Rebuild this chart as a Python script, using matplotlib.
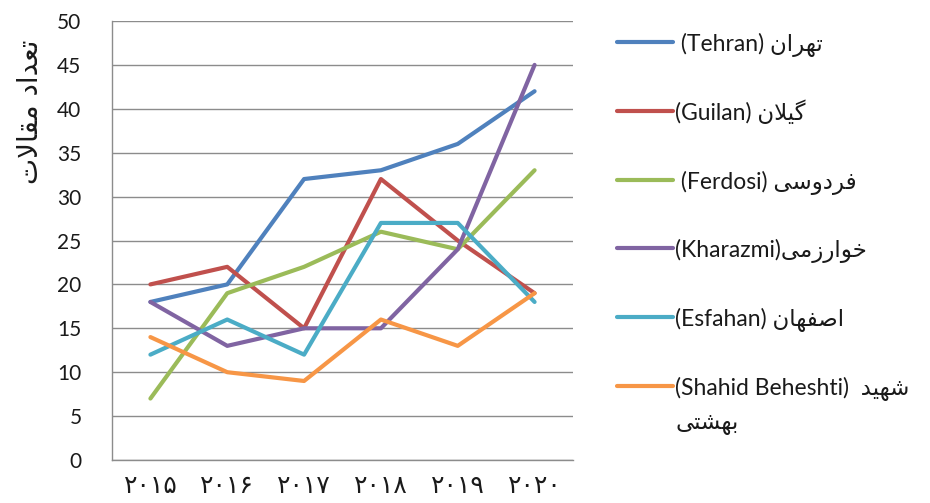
import matplotlib
import matplotlib.pyplot as plt
from matplotlib.lines import Line2D

matplotlib.use('Agg')

# Data
years = ['۲۰۱۵', '۲۰۱۶', '۲۰۱۷', '۲۰۱۸', '۲۰۱۹', '۲۰۲۰']
tehran = [18, 20, 32, 33, 36, 42]
guilan = [20, 22, 15, 32, 25, 19]
ferdosi = [7, 19, 22, 26, 24, 33]
kharazmi = [18, 13, 15, 15, 24, 45]
esfahan = [12, 16, 12, 27, 27, 18]
beheshti = [14, 10, 9, 16, 13, 19]

latin_names = [' (Tehran) ', '(Guilan) ', ' (Ferdosi) ', '(Kharazmi)', '(Esfahan) ', '(Shahid Beheshti)  ']
persian_names = ['تهران', 'گیلان', 'فردوسی', 'خوارزمی', 'اصفهان', 'شهید']
y_title = 'تعداد مقالات'

colors = ['#4F81BD', '#C0504D', '#9BBB59', '#8064A2', '#4BACC6', '#F79646']

# matplotlib has no Arabic shaping, so map letters to presentation forms
# (isolated, final, initial, medial) and lay them out right to left
FORMS = {
    'ا': ('\uFE8D', '\uFE8E', None, None),
    'ب': ('\uFE8F', '\uFE90', '\uFE91', '\uFE92'),
    'ت': ('\uFE95', '\uFE96', '\uFE97', '\uFE98'),
    'خ': ('\uFEA5', '\uFEA6', '\uFEA7', '\uFEA8'),
    'د': ('\uFEA9', '\uFEAA', None, None),
    'ر': ('\uFEAD', '\uFEAE', None, None),
    'ز': ('\uFEAF', '\uFEB0', None, None),
    'س': ('\uFEB1', '\uFEB2', '\uFEB3', '\uFEB4'),
    'ش': ('\uFEB5', '\uFEB6', '\uFEB7', '\uFEB8'),
    'ص': ('\uFEB9', '\uFEBA', '\uFEBB', '\uFEBC'),
    'ع': ('\uFEC9', '\uFECA', '\uFECB', '\uFECC'),
    'ف': ('\uFED1', '\uFED2', '\uFED3', '\uFED4'),
    'ق': ('\uFED5', '\uFED6', '\uFED7', '\uFED8'),
    'ل': ('\uFEDD', '\uFEDE', '\uFEDF', '\uFEE0'),
    'م': ('\uFEE1', '\uFEE2', '\uFEE3', '\uFEE4'),
    'ن': ('\uFEE5', '\uFEE6', '\uFEE7', '\uFEE8'),
    'ه': ('\uFEE9', '\uFEEA', '\uFEEB', '\uFEEC'),
    'و': ('\uFEED', '\uFEEE', None, None),
    'ی': ('\uFBFC', '\uFBFD', '\uFBFE', '\uFBFF'),
    'گ': ('\uFB92', '\uFB93', '\uFB94', '\uFB95'),
}
LAM_ALEF = ('\uFEFB', '\uFEFC')


def joins_forward(ch):
    return ch in FORMS and FORMS[ch][2] is not None


def fa(text):
    out = []
    i = 0
    while i < len(text):
        ch = text[i]
        if ch not in FORMS:
            out.append(ch)
            i += 1
            continue
        prev = text[i - 1] if i > 0 else ''
        joined_prev = joins_forward(prev)
        if ch == 'ل' and i + 1 < len(text) and text[i + 1] == 'ا':
            out.append(LAM_ALEF[1] if joined_prev else LAM_ALEF[0])
            i += 2
            continue
        nxt = text[i + 1] if i + 1 < len(text) else ''
        joined_next = joins_forward(ch) and nxt in FORMS
        iso, fin, ini, med = FORMS[ch]
        if joined_prev and joined_next:
            out.append(med)
        elif joined_prev:
            out.append(fin)
        elif joined_next:
            out.append(ini)
        else:
            out.append(iso)
        i += 1
    return ''.join(reversed(out))


plt.rcParams['font.family'] = ['Lato', 'DejaVu Sans']
text_color = '#1A1A1A'
grid_color = '#8C8C8C'

W, H = 930, 503
fig = plt.figure(figsize=(W / 100, H / 100), dpi=100)
ax = fig.add_axes([112 / W, 1 - 460 / H, 461 / W, 439 / H])

series = [tehran, guilan, ferdosi, kharazmi, esfahan, beheshti]
x = list(range(len(years)))
for values, color in zip(series, colors):
    ax.plot(x, values, color=color, linewidth=3.0,
            solid_joinstyle='round', solid_capstyle='round')

ax.set_xlim(-0.5, len(years) - 0.5)
ax.set_ylim(0, 50)
ax.set_yticks(range(0, 51, 5))
ax.set_xticks(x)
ax.set_xticklabels(years, family=['DejaVu Sans'], fontsize=18)
ax.tick_params(axis='y', length=0, pad=22, labelsize=15, labelcolor=text_color)
ax.tick_params(axis='x', length=0, pad=10, labelcolor=text_color)
ax.yaxis.grid(True, color=grid_color, linewidth=1.0)
ax.set_axisbelow(True)
for side in ['top', 'right']:
    ax.spines[side].set_visible(False)
for side in ['left', 'bottom']:
    ax.spines[side].set_color(grid_color)
    ax.spines[side].set_linewidth(1.0)

# y axis title, placed high like the original
fig.text(30 / W, 1 - 112 / H, fa(y_title), rotation=90, ha='center', va='center',
         fontsize=20, color=text_color, family=['DejaVu Sans'])

# hand-made legend on the right
for i, (latin, persian, color) in enumerate(zip(latin_names, persian_names, colors)):
    y_px = 42 + 68.8 * i
    y = 1 - y_px / H
    fig.add_artist(Line2D([617 / W, 673 / W], [y, y], transform=fig.transFigure,
                          color=color, linewidth=3.0, solid_capstyle='round'))
    fig.text(675 / W, 1 - (y_px + 9) / H, latin + fa(persian), ha='left', va='baseline',
             fontsize=16.5, color=text_color)
fig.text(675 / W, 1 - (386 + 9 + 34) / H, fa('بهشتی'), ha='left', va='baseline',
         fontsize=16.5, color=text_color)

fig.savefig('out.png', dpi=100)
